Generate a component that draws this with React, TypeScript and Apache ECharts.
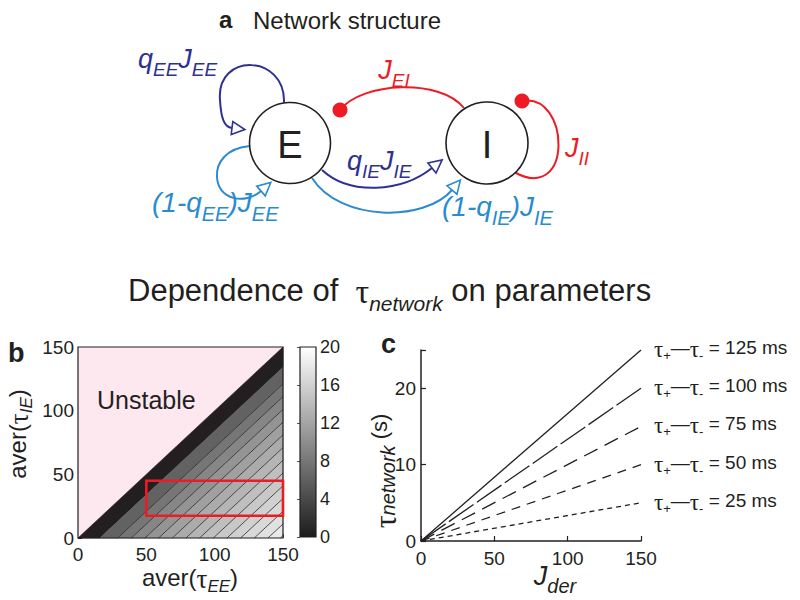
import React, { useEffect, useRef } from 'react';
import * as echarts from 'echarts';

// ---------------- data : panel b (contour map) ----------------
const heatRange = [0, 150];
const heatTicks = [0, 50, 100, 150];
// boundaries of filled contour bands, expressed as aver(tauEE) - aver(tauIE)
const bandEdges = [0, 16, 29, 39, 49, 59, 69, 79, 89, 99, 109, 119, 129, 139, 148, 150];
const unstableBand = [-150, 0];
const contourLevels = [29, 39, 49, 59, 69, 79, 89, 99, 109, 119, 129, 139, 148];
const highlightBox = [50, 17.5, 150, 45]; // x0, y0, x1, y1
const colorbarRange = [0, 20];
const colorbarTicks = [0, 4, 8, 12, 16, 20];

// ---------------- data : panel c ----------------
const jderEnds = [0, 150];
const tauDiffMs = [125, 100, 75, 50, 25];
const tauNetworkEnd = [25, 20, 15, 10, 5];
const tauAxisLabels = [0, 10, 20];

// ---------------- styles ----------------
const INK = '#231f20';
const NAVY = '#2e3192';
const SKY = '#2a8bcf';
const RED = '#ed1c24';
const PINK = '#fde8f0';
const SANS = "'Liberation Sans', Arial, Helvetica, sans-serif";
const SERIF = "'Liberation Serif', 'Times New Roman', serif";
const bandGrays = ['#231f20', '#626262', '#767676', '#868686', '#949494', '#a0a0a0', '#ababab', '#b5b5b5',
  '#bfbfbf', '#c8c8c8', '#d1d1d1', '#d9d9d9', '#e1e1e1', '#e9e9e9', '#f1f1f1'];
const lineDashes: any[] = ['solid', [30, 4], [15, 8], [9, 7], [5, 4]];

function richSet(main: number, sub: number, color: string, tau?: number) {
  const L = Math.round(1.05 * main + 0.3 * sub);
  const base = { color, fill: color, lineHeight: L, verticalAlign: 'top' };
  return {
    n: { ...base, fontSize: main, fontFamily: SANS, fontStyle: 'normal' },
    m: { ...base, fontSize: main, fontFamily: SANS, fontStyle: 'italic' },
    t: { ...base, fontSize: tau ?? main, fontFamily: SERIF, fontStyle: 'normal' },
    s: { color, fill: color, lineHeight: sub, verticalAlign: 'bottom', fontSize: sub, fontFamily: SANS, fontStyle: 'italic' },
    u: { color, fill: color, lineHeight: sub, verticalAlign: 'bottom', fontSize: sub, fontFamily: SANS, fontStyle: 'normal' },
  };
}

function gtext(x: number, y: number, text: string, opts: any = {}) {
  const { align = 'left', size = 20, color = INK, weight = 'normal', rich, rotation = 0, italic = false } = opts;
  return {
    type: 'text', x, y, rotation, z: 100, silent: true,
    style: {
      text, align, verticalAlign: 'middle', fill: color, fontSize: size, fontFamily: SANS,
      fontWeight: weight, fontStyle: italic ? 'italic' : 'normal', rich,
    },
  };
}

function clipHalf(poly: number[][], f: (p: number[]) => number) {
  const out: number[][] = [];
  for (let i = 0; i < poly.length; i++) {
    const a = poly[i];
    const b = poly[(i + 1) % poly.length];
    const fa = f(a);
    const fb = f(b);
    if (fa >= 0) out.push(a);
    if ((fa >= 0) !== (fb >= 0)) {
      const t = fa / (fa - fb);
      out.push([a[0] + t * (b[0] - a[0]), a[1] + t * (b[1] - a[1])]);
    }
  }
  return out;
}

function arrowHead(end: number[], cp: number[], color: string, len = 13, half = 6.5) {
  const dx = end[0] - cp[0];
  const dy = end[1] - cp[1];
  const n = Math.hypot(dx, dy) || 1;
  const ux = dx / n, uy = dy / n;
  const tip = [end[0] + ux * len, end[1] + uy * len];
  return {
    type: 'polygon', z: 60, silent: true,
    shape: { points: [tip, [end[0] - uy * half, end[1] + ux * half], [end[0] + uy * half, end[1] - ux * half]] },
    style: { fill: '#fff', stroke: color, lineWidth: 1.6 },
  };
}

function curve(p: number[][], color: string) {
  return {
    type: 'bezierCurve', z: 50, silent: true,
    shape: { x1: p[0][0], y1: p[0][1], cpx1: p[1][0], cpy1: p[1][1], cpx2: p[2][0], cpy2: p[2][1], x2: p[3][0], y2: p[3][1] },
    style: { stroke: color, lineWidth: 2, fill: 'none' },
  };
}

function buildDiagram() {
  const els: any[] = [];
  // navy self loop on E
  els.push(curve([[284, 103], [286, 54], [216, 52], [220, 100]], NAVY));
  const nav2 = [[220, 100], [221, 118], [224, 127], [232, 128]];
  els.push(curve(nav2, NAVY));
  els.push(arrowHead(nav2[3], nav2[2], NAVY));
  // light blue self loop on E
  els.push(curve([[250, 146], [226, 148], [216, 163], [217, 177]], SKY));
  const sky2 = [[217, 177], [218, 200], [245, 205], [261, 191]];
  els.push(curve(sky2, SKY));
  els.push(arrowHead(sky2[3], sky2[2], SKY));
  // navy E -> I
  const nIE = [[322, 170], [350, 196], [402, 192], [432, 168]];
  els.push(curve(nIE, NAVY));
  els.push(arrowHead(nIE[3], nIE[2], NAVY));
  // light blue E -> I
  const sIE = [[312, 178], [340, 222], [425, 222], [452, 190]];
  els.push(curve(sIE, SKY));
  els.push(arrowHead(sIE[3], sIE[2], SKY));
  // red I -> E
  els.push(curve([[340, 110], [362, 82], [440, 78], [464, 108]], RED));
  els.push({ type: 'circle', z: 60, silent: true, shape: { cx: 340, cy: 110, r: 7.5 }, style: { fill: RED } });
  // red I self loop
  els.push(curve([[522, 101], [570, 92], [574, 205], [514, 172]], RED));
  els.push({ type: 'circle', z: 60, silent: true, shape: { cx: 522, cy: 101, r: 7.5 }, style: { fill: RED } });
  // populations
  els.push({ type: 'circle', z: 55, silent: true, shape: { cx: 290, cy: 143, r: 40.5 }, style: { fill: '#fff', stroke: INK, lineWidth: 1.6 } });
  els.push({ type: 'circle', z: 55, silent: true, shape: { cx: 487, cy: 143, r: 41 }, style: { fill: '#fff', stroke: INK, lineWidth: 1.6 } });
  els.push(gtext(290, 145, 'E', { align: 'center', size: 38 }));
  els.push(gtext(487, 145, 'I', { align: 'center', size: 38 }));
  // connection labels
  els.push(gtext(138, 62, '{m|q}{s|EE}{m|J}{s|EE}', { rich: richSet(27, 19, NAVY) }));
  els.push(gtext(394, 73, '{m|J}{s|EI}', { align: 'center', rich: richSet(27, 19, RED) }));
  els.push(gtext(565, 151, '{m|J}{s|II}', { rich: richSet(27, 19, RED) }));
  els.push(gtext(152, 206, '{m|(1-q}{s|EE}{m|)J}{s|EE}', { rich: richSet(28, 20, SKY) }));
  els.push(gtext(347, 164, '{m|q}{s|IE}{m|J}{s|IE}', { rich: richSet(27, 19, NAVY) }));
  els.push(gtext(442, 210, '{m|(1-q}{s|IE}{m|)J}{s|IE}', { rich: richSet(28, 20, SKY) }));
  return els;
}

function buildOption() {
  const [h0, h1] = heatRange;
  const bandItems: any[] = [{ value: unstableBand, itemStyle: { color: PINK } }];
  bandEdges.slice(0, -1).forEach((d, i) => {
    bandItems.push({ value: [d, bandEdges[i + 1]], itemStyle: { color: bandGrays[i] } });
  });

  const tickLabel = { color: INK, fontSize: 19, fontFamily: SANS };

  const lineSeries = tauDiffMs.map((ms, i) => ({
    name: `τ+−τ- = ${ms} ms`,
    type: 'line', xAxisIndex: 2, yAxisIndex: 2, symbol: 'none', z: 5, clip: false,
    data: [[jderEnds[0], 0], [jderEnds[1], tauNetworkEnd[i]]],
    lineStyle: { color: INK, width: 1.3, type: lineDashes[i] },
    endLabel: {
      show: true, distance: 13,
      formatter: `{t|τ}{u|+}{n|—}{t|τ}{u|-}{n| = ${ms} ms}`,
      rich: richSet(19, 13, INK, 23),
    },
  }));

  return {
    animation: false,
    backgroundColor: '#ffffff',
    textStyle: { fontFamily: SANS },
    grid: [
      { left: 78, top: 347, width: 205, height: 191 },
      { left: 300, top: 347, width: 16, height: 190 },
      { left: 421, top: 350, width: 220, height: 191 },
    ],
    xAxis: [
      {
        gridIndex: 0, type: 'value', min: h0, max: h1, interval: 50,
        axisLine: { show: false }, axisTick: { show: true, inside: true, length: 4, lineStyle: { color: INK } },
        axisLabel: { ...tickLabel, margin: 7, lineHeight: 19, formatter: (v: number) => (heatTicks.includes(v) ? String(v) : '') },
        splitLine: { show: false },
      },
      { gridIndex: 1, type: 'value', min: 0, max: 1, show: false },
      {
        gridIndex: 2, type: 'value', min: 0, max: 150, interval: 50,
        axisLine: { show: true, onZero: false, lineStyle: { color: INK, width: 1.5 } },
        axisTick: { show: true, inside: true, length: 5, lineStyle: { color: INK, width: 1.2 } },
        axisLabel: { ...tickLabel, margin: 8, lineHeight: 19 }, splitLine: { show: false },
      },
    ],
    yAxis: [
      {
        gridIndex: 0, type: 'value', min: h0, max: h1, interval: 50,
        axisLine: { show: false }, axisTick: { show: true, inside: true, length: 4, lineStyle: { color: INK } },
        axisLabel: { ...tickLabel, margin: 4, formatter: (v: number) => (heatTicks.includes(v) ? String(v) : '') },
        splitLine: { show: false },
      },
      {
        gridIndex: 1, type: 'value', position: 'right', min: colorbarRange[0], max: colorbarRange[1], interval: 4,
        axisLine: { show: false }, axisTick: { show: true, inside: true, length: 3, lineStyle: { color: '#555' } },
        axisLabel: { color: INK, fontSize: 18, fontFamily: SANS, margin: 4, formatter: (v: number) => (colorbarTicks.includes(v) ? String(v) : '') },
        splitLine: { show: false },
      },
      {
        gridIndex: 2, type: 'value', min: 0, max: 25, interval: 10,
        axisLine: { show: true, onZero: false, lineStyle: { color: INK, width: 1.5 } },
        axisTick: { show: true, inside: true, length: 5, lineStyle: { color: INK, width: 1.2 } },
        axisLabel: { ...tickLabel, margin: 5, formatter: (v: number) => (tauAxisLabels.includes(v) ? String(v) : '') },
        splitLine: { show: false },
      },
    ],
    series: [
      {
        name: 'bands', type: 'custom', xAxisIndex: 0, yAxisIndex: 0, z: 1, silent: true,
        renderItem: (params: any, api: any) => {
          const d1 = api.value(0);
          const d2 = api.value(1);
          let poly = [[h0, h0], [h1, h0], [h1, h1], [h0, h1]];
          poly = clipHalf(poly, (p) => p[0] - p[1] - d1);
          poly = clipHalf(poly, (p) => d2 - (p[0] - p[1]));
          if (poly.length < 3) return { type: 'group', children: [] };
          const color = api.visual('color');
          return {
            type: 'polygon', shape: { points: poly.map((p) => api.coord(p)) },
            style: { fill: color, stroke: color, lineWidth: 0.6 },
          };
        },
        data: bandItems,
      },
      {
        name: 'contours', type: 'custom', xAxisIndex: 0, yAxisIndex: 0, z: 2, silent: true,
        renderItem: (params: any, api: any) => {
          const d = api.value(0);
          const a = api.coord([d, h0]);
          const b = api.coord([h1, h1 - d]);
          return { type: 'line', shape: { x1: a[0], y1: a[1], x2: b[0], y2: b[1] }, style: { stroke: '#2a2a2a', lineWidth: 0.8 } };
        },
        data: contourLevels.map((d) => [d, 0]),
      },
      {
        name: 'frame', type: 'custom', xAxisIndex: 0, yAxisIndex: 0, z: 3, silent: true,
        renderItem: (params: any, api: any) => {
          const a = api.coord([api.value(0), api.value(3)]);
          const b = api.coord([api.value(2), api.value(1)]);
          return { type: 'rect', shape: { x: a[0], y: a[1], width: b[0] - a[0], height: b[1] - a[1] }, style: { fill: 'none', stroke: INK, lineWidth: 1.2 } };
        },
        data: [[h0, h0, h1, h1]],
      },
      {
        name: 'highlight', type: 'custom', xAxisIndex: 0, yAxisIndex: 0, z: 4, silent: true,
        renderItem: (params: any, api: any) => {
          const a = api.coord([api.value(0), api.value(3)]);
          const b = api.coord([api.value(2), api.value(1)]);
          return { type: 'rect', shape: { x: a[0], y: a[1], width: b[0] - a[0], height: b[1] - a[1] }, style: { fill: 'none', stroke: RED, lineWidth: 2.6 } };
        },
        data: [highlightBox],
      },
      {
        name: 'colorbar', type: 'custom', xAxisIndex: 1, yAxisIndex: 1, z: 2, silent: true,
        renderItem: (params: any, api: any) => {
          const a = api.coord([0, api.value(1)]);
          const b = api.coord([1, api.value(0)]);
          return {
            type: 'rect', shape: { x: a[0], y: a[1], width: b[0] - a[0], height: b[1] - a[1] },
            style: {
              fill: new echarts.graphic.LinearGradient(0, 0, 0, 1, [
                { offset: 0, color: '#ffffff' }, { offset: 1, color: '#1c1c1c' },
              ]),
              stroke: INK, lineWidth: 1.2,
            },
          };
        },
        data: [colorbarRange],
      },
      ...lineSeries,
    ],
    graphic: [
      ...buildDiagram(),
      gtext(219, 19, 'a', { size: 24, weight: 'bold' }),
      gtext(253, 20, 'Network structure', { size: 24 }),
      gtext(128, 294, '{n|Dependence of  }{t|τ}{s|network}{n| on parameters}', { rich: richSet(31, 21, INK, 34) }),
      gtext(8, 353, 'b', { size: 27, weight: 'bold' }),
      gtext(381, 344, 'c', { size: 27, weight: 'bold' }),
      gtext(97, 400, 'Unstable', { size: 25 }),
      gtext(190, 580, '{n|aver(}{t|τ}{s|EE}{n|)}', { align: 'center', rich: richSet(24, 17, INK, 27) }),
      gtext(20, 434, '{n|aver(}{t|τ}{s|IE}{n|)}', { align: 'center', rotation: Math.PI / 2, rich: richSet(24, 17, INK, 27) }),
      gtext(383, 471, '{t|τ}{s|network}{n| (s)}', { align: 'center', rotation: Math.PI / 2, rich: richSet(22, 20, INK, 32) }),
      gtext(555, 579, '{m|J}{s|der}', { align: 'center', rich: richSet(27, 20, INK) }),
    ],
  };
}

export default function App() {
  const ref = useRef<HTMLDivElement>(null);
  useEffect(() => {
    if (!ref.current) return;
    const chart = echarts.init(ref.current, null, { renderer: 'svg' });
    chart.setOption(buildOption() as any);
    return () => chart.dispose();
  }, []);
  return (
    <div
      ref={ref}
      style={{ position: 'absolute', left: 0, top: 0, width: 800, height: 600, background: '#fff' }}
    />
  );
}
